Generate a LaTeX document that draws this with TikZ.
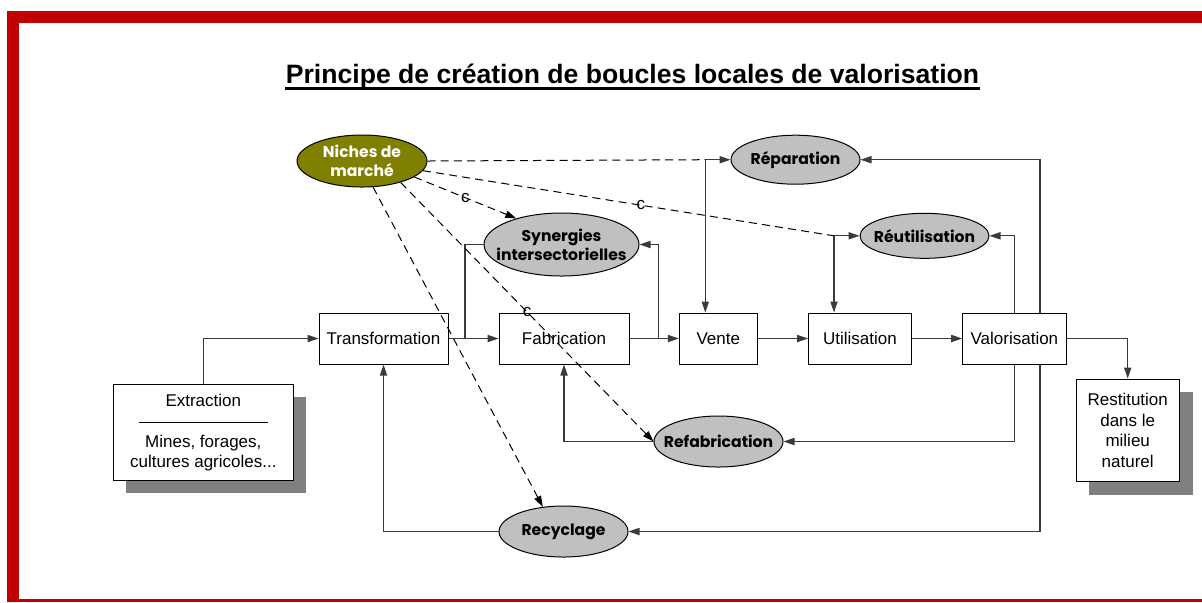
\documentclass[tikz,border=0pt]{standalone}
\usepackage{fontspec}
\setmainfont{Liberation Sans}
\newfontfamily\comicfont{Poppins}
\usetikzlibrary{arrows.meta,shapes.geometric}
\definecolor{framered}{HTML}{C00000}
\definecolor{nicheolive}{HTML}{808000}
\definecolor{ellgray}{HTML}{C0C0C0}
\definecolor{shadowgray}{HTML}{808080}
\definecolor{conngray}{HTML}{3A3A3A}
\tikzset{
  box/.style={draw=black, fill=white, line width=0.5pt, inner sep=0pt,
    minimum height=25.5pt, align=center, font=\fontsize{8.5}{10}\selectfont},
  ell/.style={ellipse, draw=black, fill=ellgray, line width=0.5pt, inner sep=0pt},
  elltext/.style={inner sep=0pt, align=center, font=\comicfont\bfseries\fontsize{7.8}{9.5}\selectfont},
  conn/.style={draw=conngray, line width=0.55pt},
  arr/.style={-{Triangle[length=5.5pt,width=3.6pt]}},
  darr/.style={{Triangle[length=5.5pt,width=3.6pt]}-{Triangle[length=5.5pt,width=3.6pt]}},
  dashline/.style={draw=black, line width=0.5pt, dash pattern=on 4pt off 2.6pt},
  cmark/.style={inner sep=0pt, font=\fontsize{8.5}{8.5}\selectfont},
  shadowbox/.style={fill=shadowgray, draw=none}
}
\begin{document}
\begin{tikzpicture}[x=0.5pt,y=-0.5pt]
\useasboundingbox (0,0) rectangle (1202,602);
% frame
\fill[framered] (7.3,10.7) rectangle (1202,22.7);
\fill[framered] (7.3,10.7) rectangle (19,602);
\fill[framered] (7.3,599.3) rectangle (1202,602);
% title
\node[anchor=base, inner sep=0pt, font=\bfseries\fontsize{13.3}{15}\selectfont] (title) at (632.5,83.3)
  {Principe de création de boucles locales de valorisation};
\draw[line width=1.1pt] ([yshift=-2.6pt]title.base west) -- ([yshift=-2.6pt]title.base east);
% shadows
\fill[shadowgray] (126.3,397.3) rectangle (306.3,493.3);
\fill[shadowgray] (1089,391.7) rectangle (1192.7,495);
% boxes
\node[box, minimum width=90pt, minimum height=48pt] (extr) at (203.3,432) {};
\node[inner sep=0pt, font=\fontsize{8.5}{10}\selectfont] (extrt) at (203.3,400.5) {Extraction};
\draw[line width=0.5pt] (139.3,422.3) -- (267.7,422.3);
\node[inner sep=0pt, align=center, font=\fontsize{8.5}{9.6}\selectfont] (extrd) at (203.3,453) {Mines, forages,\\cultures agricoles...};
\node[box, minimum width=51.7pt, minimum height=51.4pt, font=\fontsize{8.5}{10.3}\selectfont] (rest) at (1127.7,430.4)
  {Restitution\\dans le\\milieu\\naturel};
\node[box, minimum width=64.5pt] (trans) at (383.5,338.5) {Transformation};
\node[box, minimum width=65pt] (fab) at (564,338.5) {Fabrication};
\node[box, minimum width=39pt] (vente) at (718.3,338.5) {Vente};
\node[box, minimum width=51.5pt] (util) at (860,338.5) {Utilisation};
\node[box, minimum width=51.7pt] (valo) at (1014.4,338.5) {Valorisation};
% ellipses
\node[ell, fill=nicheolive, minimum width=65pt, minimum height=26pt] (niches) at (362,161) {};
\node[elltext, text=white] (nichest) at (362,161) {Niches de\\marché};
\node[ell, minimum width=64.5pt, minimum height=24.5pt] (rep) at (795.5,159.7) {};
\node[elltext] (rept) at (795.5,159.7) {Réparation};
\node[ell, minimum width=77.5pt, minimum height=31.5pt] (syn) at (561.5,244.5) {};
\node[elltext] (synt) at (561.5,244.5) {Synergies\\intersectorielles};
\node[ell, minimum width=64.5pt, minimum height=22.5pt] (reu) at (924.5,235.8) {};
\node[elltext] (reut) at (924.5,235.8) {Réutilisation};
\node[ell, minimum width=64.5pt, minimum height=25.5pt] (ref) at (718.5,441.5) {};
\node[elltext] (reft) at (718.5,441.5) {Refabrication};
\node[ell, minimum width=64.5pt, minimum height=25.5pt] (rec) at (563.5,531.5) {};
\node[elltext] (rect) at (563.5,531.5) {Recyclage};
% junction coordinates
\coordinate (jsynl) at (465,338.5);
\coordinate (jsynr) at (658.3,338.5);
\coordinate (jrep) at (705.3,159.7);
\coordinate (jreu) at (834,235.8);
% main chain
\draw[conn, arr] (extr.north) |- (trans.west);
\draw[conn, arr] (trans.east) -- (fab.west);
\draw[conn, arr] (fab.east) -- (vente.west);
\draw[conn, arr] (vente.east) -- (util.west);
\draw[conn, arr] (util.east) -- (valo.west);
\draw[conn, arr] (valo.east) -| (rest.north);
% synergies loop
\draw[conn] (syn.west) -| (jsynl);
\draw[conn, arr] (jsynr) |- (syn.east);
% reparation / reutilisation
\draw[conn, darr] (rep.west) -- (jrep) -- (jrep |- vente.north);
\draw[conn, darr] (reu.west) -- (jreu) -- (jreu |- util.north);
% valorisation returns
\draw[conn, arr] (valo.north) |- (reu.east);
\draw[conn, arr] ([xshift=12.8pt]valo.north) |- (rep.east);
\draw[conn, arr] (valo.south) |- (ref.east);
\draw[conn, arr] ([xshift=12.8pt]valo.south) |- (rec.east);
\draw[conn, arr] (ref.west) -| (fab.south);
\draw[conn, arr] (rec.west) -| (trans.south);
% dashed links from niches
\draw[dashline] (niches.east) -- (jrep);
\draw[dashline] (niches.-9) -- (jreu) node[cmark, pos=0.53] (c2) {c};
\draw[dashline, arr] (niches.-17) -- (syn.150) node[cmark, pos=0.5] (c1) {c};
\draw[dashline, arr] (niches.-29) -- (ref.west) node[cmark, pos=0.5] (c3) {c};
\draw[dashline, arr] (niches.-67) -- (rec.130);
\end{tikzpicture}
\end{document}
